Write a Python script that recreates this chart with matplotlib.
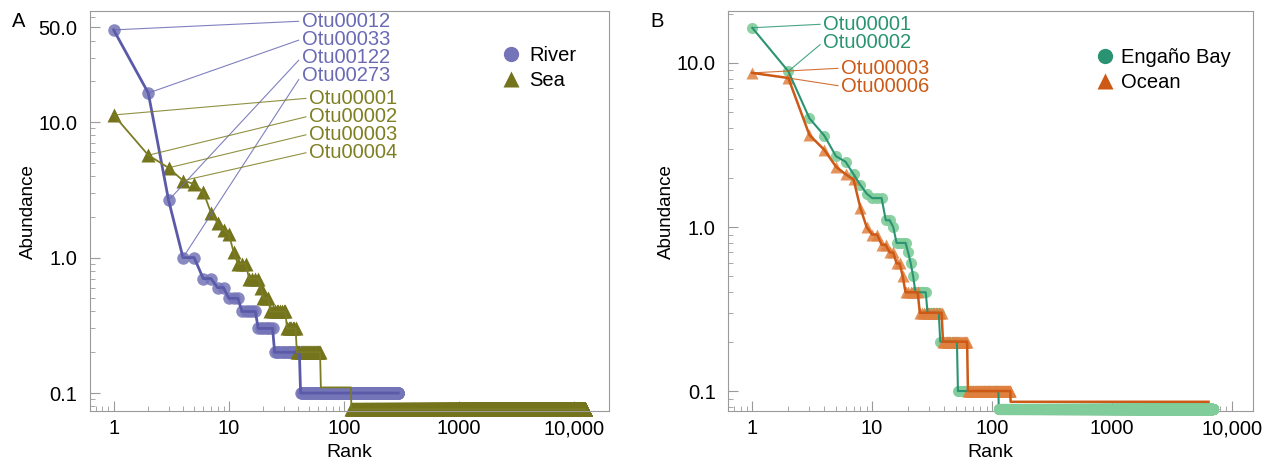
import numpy as np
import matplotlib.pyplot as plt
from matplotlib.lines import Line2D

plt.rcParams['font.family'] = ['Liberation Sans', 'DejaVu Sans']

# ---- Panel A: River / Sea (rank-abundance, levels + number of OTUs at each level)
river_levels = [48.0, 16.4, 2.65, 1.0, 0.7, 0.6, 0.5, 0.4, 0.3, 0.2, 0.1]
river_counts = [1, 1, 1, 2, 2, 2, 3, 5, 7, 17, 255]

sea_levels = [11.3, 5.7, 4.6, 3.7, 3.5, 3.05, 2.15, 1.8, 1.6, 1.5, 1.1,
              0.9, 0.7, 0.6, 0.5, 0.4, 0.3, 0.2, 0.11, 0.076]
sea_counts = [1, 1, 1, 1, 1, 1, 1, 1, 1, 1, 1,
              3, 4, 1, 3, 9, 7, 24, 53, 12385]
sea_no_marker = [0.11]

river_labels = ["Otu00012", "Otu00033", "Otu00122", "Otu00273"]
river_label_ranks = [1, 2, 3, 4]
sea_labels = ["Otu00001", "Otu00002", "Otu00003", "Otu00004"]
sea_label_ranks = [1, 2, 3, 4]

# ---- Panel B: Engano Bay / Ocean
bay_levels = [16.4, 8.9, 4.6, 3.6, 2.7, 2.5, 2.1, 1.8, 1.6, 1.5, 1.1, 1.0,
              0.8, 0.7, 0.6, 0.5, 0.4, 0.3, 0.2, 0.1, 0.078]
bay_counts = [1, 1, 1, 1, 1, 1, 1, 1, 1, 3, 2, 1,
              4, 1, 1, 1, 6, 8, 15, 62, 6890]

ocean_levels = [8.7, 8.1, 3.64, 2.95, 2.33, 2.1, 1.95, 1.3, 1.0, 0.9, 0.78,
                0.7, 0.6, 0.5, 0.4, 0.3, 0.2, 0.1, 0.086]
ocean_counts = [1, 1, 1, 1, 1, 1, 1, 1, 1, 2, 2,
                2, 2, 1, 6, 14, 24, 80, 6258]
ocean_no_marker = [0.086]

bay_labels = ["Otu00001", "Otu00002"]
bay_label_ranks = [1, 2]
ocean_labels = ["Otu00003", "Otu00006"]
ocean_label_ranks = [1, 2]

X_TICKS = [1, 10, 100, 1000, 10000]
X_TICKLABELS = ["1", "10", "100", "1000", "10,000"]

# cores
C_RIVER_LINE, C_RIVER_MK = "#5a5aa8", "#7474b8"
C_SEA_LINE, C_SEA_MK = "#7c7c24", "#74741c"
C_BAY_LINE, C_BAY_MK = "#2a9472", "#80cc9a"
C_OCEAN_LINE, C_OCEAN_MK = "#cc5a16", "#e0803f"
C_SPINE = "#9a9a9a"


def expand(levels, counts):
    vals = np.repeat(np.array(levels, dtype=float), counts)
    ranks = np.arange(1, len(vals) + 1)
    return ranks, vals


def draw_series(ax, levels, counts, lc, mc, marker, ms, lw, malpha, no_marker=()):
    r, v = expand(levels, counts)
    keep = ~np.isin(v, no_marker)
    ax.plot(r[keep], v[keep], ls="none", marker=marker, ms=ms, mfc=mc, mec="none",
            alpha=malpha, clip_on=False, zorder=2)
    ax.plot(r, v, color=lc, lw=lw, zorder=3)
    return r, v


def label_otus(ax, names, ranks, r, v, x_frac, y_top, color):
    for k, (name, rk) in enumerate(zip(names, ranks)):
        ax.annotate(name, xy=(rk, v[rk - 1]), xycoords="data",
                    xytext=(x_frac, y_top - 0.045 * k), textcoords="axes fraction",
                    ha="left", va="center", color=color, fontsize=14.5,
                    arrowprops=dict(arrowstyle="-", color=color, lw=0.8, alpha=0.85,
                                    shrinkA=0, shrinkB=0, relpos=(0, 0.5)),
                    zorder=4)


def style_axes(ax, xlim, ylim, yticks, yticklabels):
    ax.set_xscale("log")
    ax.set_yscale("log")
    ax.set_xlim(*xlim)
    ax.set_ylim(*ylim)
    ax.set_xticks(X_TICKS, labels=X_TICKLABELS)
    ax.set_yticks(yticks, labels=yticklabels)
    ax.tick_params(which="both", direction="in", color=C_SPINE, labelsize=14.5)
    ax.tick_params(which="major", length=7, pad=6)
    ax.tick_params(axis="y", which="major", pad=9)
    ax.tick_params(which="minor", length=3.5)
    for s in ax.spines.values():
        s.set_color(C_SPINE)
    ax.set_xlabel("Rank", fontsize=14, labelpad=4)
    ax.set_ylabel("Abundance", fontsize=13.5, labelpad=1)


fig = plt.figure(figsize=(12.82, 4.65), dpi=100)
ax_a = fig.add_axes([0.070, 0.116, 0.405, 0.860])
ax_b = fig.add_axes([0.568, 0.116, 0.409, 0.860])

# ---------- A
r_riv, v_riv = draw_series(ax_a, river_levels, river_counts, C_RIVER_LINE, C_RIVER_MK,
                           "o", 9, 2.0, 0.85)
r_sea, v_sea = draw_series(ax_a, sea_levels, sea_counts, C_SEA_LINE, C_SEA_MK,
                           "^", 9.5, 1.3, 1.0, no_marker=sea_no_marker)
label_otus(ax_a, river_labels, river_label_ranks, r_riv, v_riv, 0.408, 0.975, "#6a6ab4")
label_otus(ax_a, sea_labels, sea_label_ranks, r_sea, v_sea, 0.422, 0.7825, "#7e7e22")
style_axes(ax_a, (0.62, 20000), (0.0736, 66), [0.1, 1, 10, 50],
           ["0.1", "1.0", "10.0", "50.0"])
hand_a = [Line2D([], [], ls="none", marker="o", ms=11, mfc=C_RIVER_MK, mec="none"),
          Line2D([], [], ls="none", marker="^", ms=11, mfc=C_SEA_MK, mec="none")]
ax_a.legend(hand_a, ["River", "Sea"], loc="upper left", bbox_to_anchor=(0.792, 0.913),
            frameon=False, fontsize=14.5, handlelength=1.0, handletextpad=0.4,
            labelspacing=0.3, borderpad=0, borderaxespad=0)

# ---------- B
r_bay, v_bay = draw_series(ax_b, bay_levels, bay_counts, C_BAY_LINE, C_BAY_MK,
                           "o", 8, 1.5, 0.9)
r_oc, v_oc = draw_series(ax_b, ocean_levels, ocean_counts, C_OCEAN_LINE, C_OCEAN_MK,
                         "^", 8.5, 1.8, 0.85, no_marker=ocean_no_marker)
# faixa do Engano Bay por cima da linha do Ocean
ax_b.plot(r_bay[v_bay == bay_levels[-1]], v_bay[v_bay == bay_levels[-1]], ls="none",
          marker="o", ms=8, mfc=C_BAY_MK, mec="none", clip_on=False, zorder=3.5)
label_otus(ax_b, bay_labels, bay_label_ranks, r_bay, v_bay, 0.181, 0.9675, "#2a9472")
label_otus(ax_b, ocean_labels, ocean_label_ranks, r_oc, v_oc, 0.215, 0.8575, "#cc5a16")
style_axes(ax_b, (0.63, 14900), (0.0755, 20.7), [0.1, 1, 10], ["0.1", "1.0", "10.0"])
hand_b = [Line2D([], [], ls="none", marker="o", ms=11, mfc=C_BAY_LINE, mec="none"),
          Line2D([], [], ls="none", marker="^", ms=11, mfc=C_OCEAN_LINE, mec="none")]
ax_b.legend(hand_b, ["Engaño Bay", "Ocean"], loc="upper left", bbox_to_anchor=(0.70, 0.907),
            frameon=False, fontsize=14.5, handlelength=1.0, handletextpad=0.3,
            labelspacing=0.3, borderpad=0, borderaxespad=0)

fig.text(0.009, 0.953, "A", fontsize=14.5, va="center")
fig.text(0.507, 0.953, "B", fontsize=14.5, va="center")

fig.savefig("out.png", dpi=100)
